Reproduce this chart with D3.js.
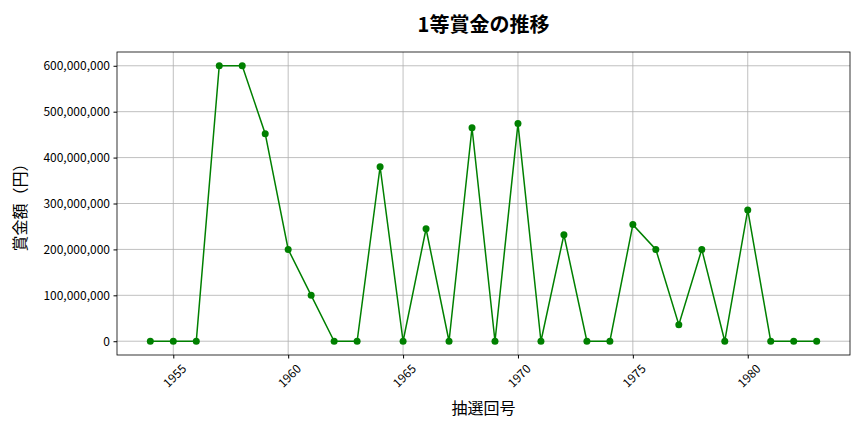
<!DOCTYPE html>
<html>
<head>
<meta charset="utf-8">
<script src="https://cdn.jsdelivr.net/npm/d3@7"></script>
<style>
  body { margin: 0; background: #fff; }
  svg text { font-family: "Noto Sans CJK JP", "Noto Sans", sans-serif; fill: #000; }
</style>
</head>
<body>
<div id="chart"></div>
<script>
const years = [1954, 1955, 1956, 1957, 1958, 1959, 1960, 1961, 1962, 1963,
               1964, 1965, 1966, 1967, 1968, 1969, 1970, 1971, 1972, 1973,
               1974, 1975, 1976, 1977, 1978, 1979, 1980, 1981, 1982, 1983];
const prize = [0, 0, 0, 600000000, 600000000, 452000000, 200000000, 100000000, 0, 0,
               380000000, 0, 245000000, 0, 465000000, 0, 474000000, 0, 232000000, 0,
               0, 254000000, 200000000, 36000000, 200000000, 0, 286000000, 0, 0, 0];
const xTicks = [1955, 1960, 1965, 1970, 1975, 1980];
const yTicks = [0, 100000000, 200000000, 300000000, 400000000, 500000000, 600000000];

const width = 864, height = 432;
const margin = { top: 52, right: 14, bottom: 77, left: 117 };
const innerW = width - margin.left - margin.right;
const innerH = height - margin.top - margin.bottom;

const svg = d3.select('#chart').append('svg')
  .attr('width', width).attr('height', height);

const g = svg.append('g').attr('transform', `translate(${margin.left},${margin.top})`);

const xPad = (d3.max(years) - d3.min(years)) * 0.05;
const x = d3.scaleLinear()
  .domain([d3.min(years) - xPad, d3.max(years) + xPad])
  .range([0, innerW]);
const yPad = d3.max(prize) * 0.05;
const y = d3.scaleLinear()
  .domain([-yPad, d3.max(prize) + yPad])
  .range([innerH, 0]);

// grid
g.append('g').selectAll('line').data(xTicks).join('line')
  .attr('x1', d => x(d)).attr('x2', d => x(d))
  .attr('y1', 0).attr('y2', innerH)
  .attr('stroke', '#b0b0b0').attr('stroke-width', 0.8);
g.append('g').selectAll('line').data(yTicks).join('line')
  .attr('y1', d => y(d)).attr('y2', d => y(d))
  .attr('x1', 0).attr('x2', innerW)
  .attr('stroke', '#b0b0b0').attr('stroke-width', 0.8);

// axes
const xAxisG = g.append('g').attr('transform', `translate(0,${innerH})`)
  .call(d3.axisBottom(x).tickValues(xTicks).tickFormat(d3.format('d')).tickSize(3.5).tickPadding(3.5));
xAxisG.select('.domain').remove();
xAxisG.selectAll('text')
  .attr('font-size', 12)
  .attr('dy', null)
  .attr('y', 0)
  .attr('dominant-baseline', 'central')
  .attr('text-anchor', 'middle')
  .attr('transform', 'translate(0,20) rotate(-45)');

const yAxisG = g.append('g')
  .call(d3.axisLeft(y).tickValues(yTicks).tickFormat(d3.format(',')).tickSize(3.5).tickPadding(3.5));
yAxisG.select('.domain').remove();
yAxisG.selectAll('text').attr('font-size', 12);

// frame
g.append('rect')
  .attr('width', innerW).attr('height', innerH)
  .attr('fill', 'none').attr('stroke', '#000').attr('stroke-width', 0.8);

// series
const pts = years.map((yr, i) => ({ yr, v: prize[i] }));
g.append('path').datum(pts)
  .attr('fill', 'none').attr('stroke', 'green').attr('stroke-width', 1.5)
  .attr('d', d3.line().x(d => x(d.yr)).y(d => y(d.v)));
g.append('g').selectAll('circle').data(pts).join('circle')
  .attr('cx', d => x(d.yr)).attr('cy', d => y(d.v)).attr('r', 3.5)
  .attr('fill', 'green');

// labels
svg.append('text')
  .attr('x', margin.left + innerW / 2).attr('y', 32)
  .attr('text-anchor', 'middle').attr('font-size', 20).attr('font-weight', 'bold')
  .text('1等賞金の推移');
svg.append('text')
  .attr('x', margin.left + innerW / 2).attr('y', 414)
  .attr('text-anchor', 'middle').attr('font-size', 16)
  .text('抽選回号');
svg.append('text')
  .attr('transform', `translate(26,${margin.top + innerH / 2}) rotate(-90)`)
  .attr('text-anchor', 'middle').attr('font-size', 16)
  .text('賞金額（円）');
</script>
</body>
</html>
